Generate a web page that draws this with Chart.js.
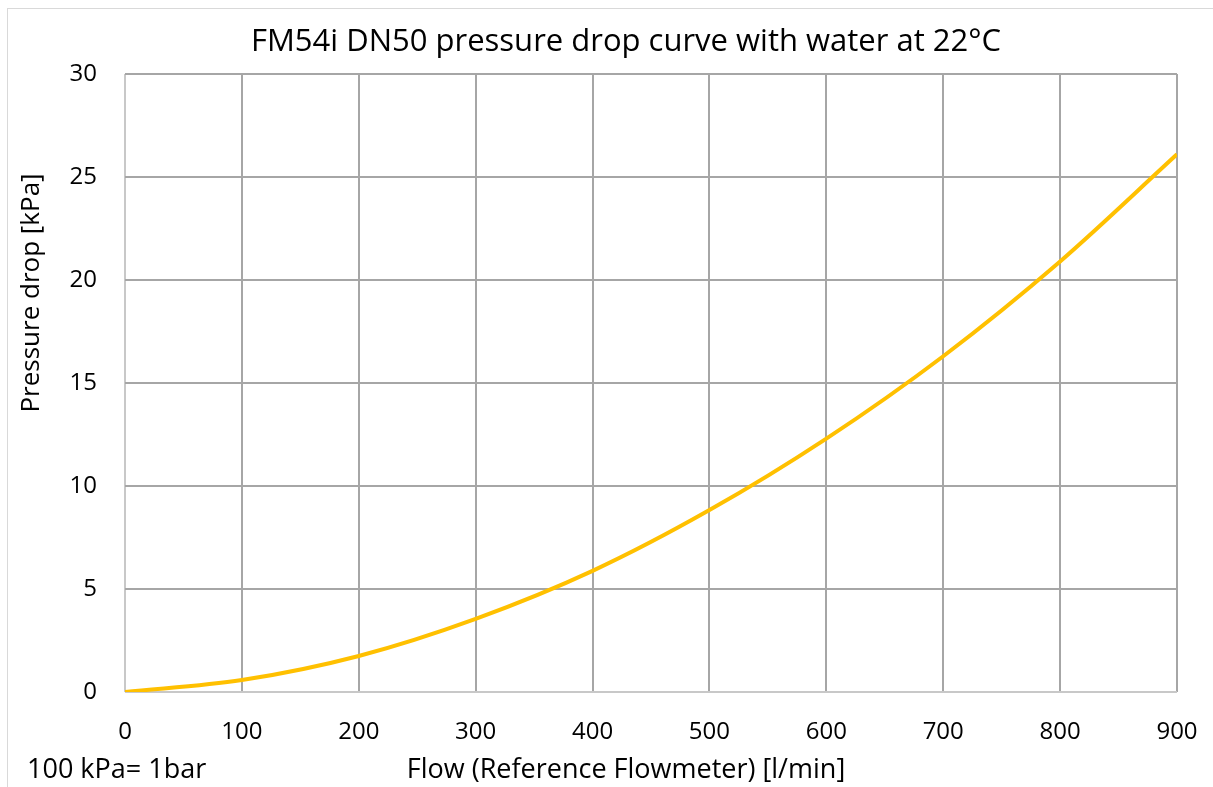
<!DOCTYPE html>
<html>
<head>
<meta charset="utf-8">
<script src="https://cdn.jsdelivr.net/npm/chart.js@4.4.1/dist/chart.umd.min.js"></script>
<style>
  html, body { margin: 0; padding: 0; background: #fff; overflow: hidden; }
  #wrap { position: relative; width: 1213px; height: 787px; }
  #frame { position: absolute; left: 7px; top: 8px; width: 1220px; height: 800px; border: 1px solid #d9d9d9; }
  #chart { position: absolute; left: 0; top: 0; }
</style>
</head>
<body>
<div id="wrap">
  <div id="frame"></div>
  <canvas id="chart" width="1213" height="787"></canvas>
</div>
<script>
// 流量 (l/min) 與壓降 (kPa)
const flow = [0, 100, 200, 300, 400, 500, 600, 700, 800, 900];
const pressureDrop = [0, 0.58, 1.75, 3.55, 5.88, 8.83, 12.3, 16.3, 20.9, 26.1];

const xTicks = [0, 100, 200, 300, 400, 500, 600, 700, 800, 900];
const yTicks = [0, 5, 10, 15, 20, 25, 30];

const titleText = 'FM54i DN50 pressure drop curve with water at 22°C';
const xTitle = 'Flow (Reference Flowmeter) [l/min]';
const yTitle = 'Pressure drop [kPa]';
const noteText = '100 kPa= 1bar';

const FONT = '"Open Sans", sans-serif';

const points = flow.map((f, i) => ({ x: f, y: pressureDrop[i] }));

// 標題與軸標題（仿 Excel 的擺放位置）
const textPlugin = {
    id: 'excelTexts',
    afterDraw(chart) {
        const c = chart.ctx;
        c.save();
        c.fillStyle = '#000';
        c.textBaseline = 'middle';

        c.font = '31px ' + FONT;
        c.textAlign = 'center';
        c.fillText(titleText, 626, 42);

        c.font = '27px ' + FONT;
        c.fillText(xTitle, 626, 770);

        c.textAlign = 'left';
        c.fillText(noteText, 27, 770);

        c.font = '26px ' + FONT;
        c.translate(32, 293);
        c.rotate(-Math.PI / 2);
        c.textAlign = 'center';
        c.fillText(yTitle, 0, 0);
        c.restore();
    }
};

new Chart(document.getElementById('chart'), {
    type: 'line',
    data: {
        datasets: [{
            data: points,
            borderColor: '#ffc000',
            borderWidth: 4,
            pointRadius: 0,
            fill: false,
            cubicInterpolationMode: 'monotone'
        }]
    },
    plugins: [textPlugin],
    options: {
        responsive: false,
        animation: false,
        layout: { padding: { left: 0, right: 36, top: 74, bottom: 0 } },
        plugins: {
            legend: { display: false },
            tooltip: { enabled: false },
            title: { display: false }
        },
        scales: {
            x: {
                type: 'linear',
                min: 0,
                max: 900,
                afterBuildTicks: s => { s.ticks = xTicks.map(v => ({ value: v })); },
                afterFit: s => { s.height = 95; s.paddingLeft = 0; s.paddingRight = 0; },
                grid: {
                    color: ctx => ctx.index === 0 ? '#c8c8c8' : '#a6a6a6',
                    lineWidth: 2,
                    drawTicks: false
                },
                border: { display: false },
                ticks: {
                    color: '#000',
                    padding: 26,
                    maxRotation: 0,
                    font: { family: FONT, size: 24 }
                }
            },
            y: {
                min: 0,
                max: 30,
                afterBuildTicks: s => { s.ticks = yTicks.map(v => ({ value: v })); },
                afterFit: s => { s.width = 125; s.paddingTop = 0; s.paddingBottom = 0; },
                grid: {
                    color: ctx => ctx.index === 0 ? '#c8c8c8' : '#a6a6a6',
                    lineWidth: 2,
                    drawTicks: false
                },
                border: { display: false },
                ticks: {
                    color: '#000',
                    padding: 28,
                    font: { family: FONT, size: 24 }
                }
            }
        }
    }
});
</script>
</body>
</html>
